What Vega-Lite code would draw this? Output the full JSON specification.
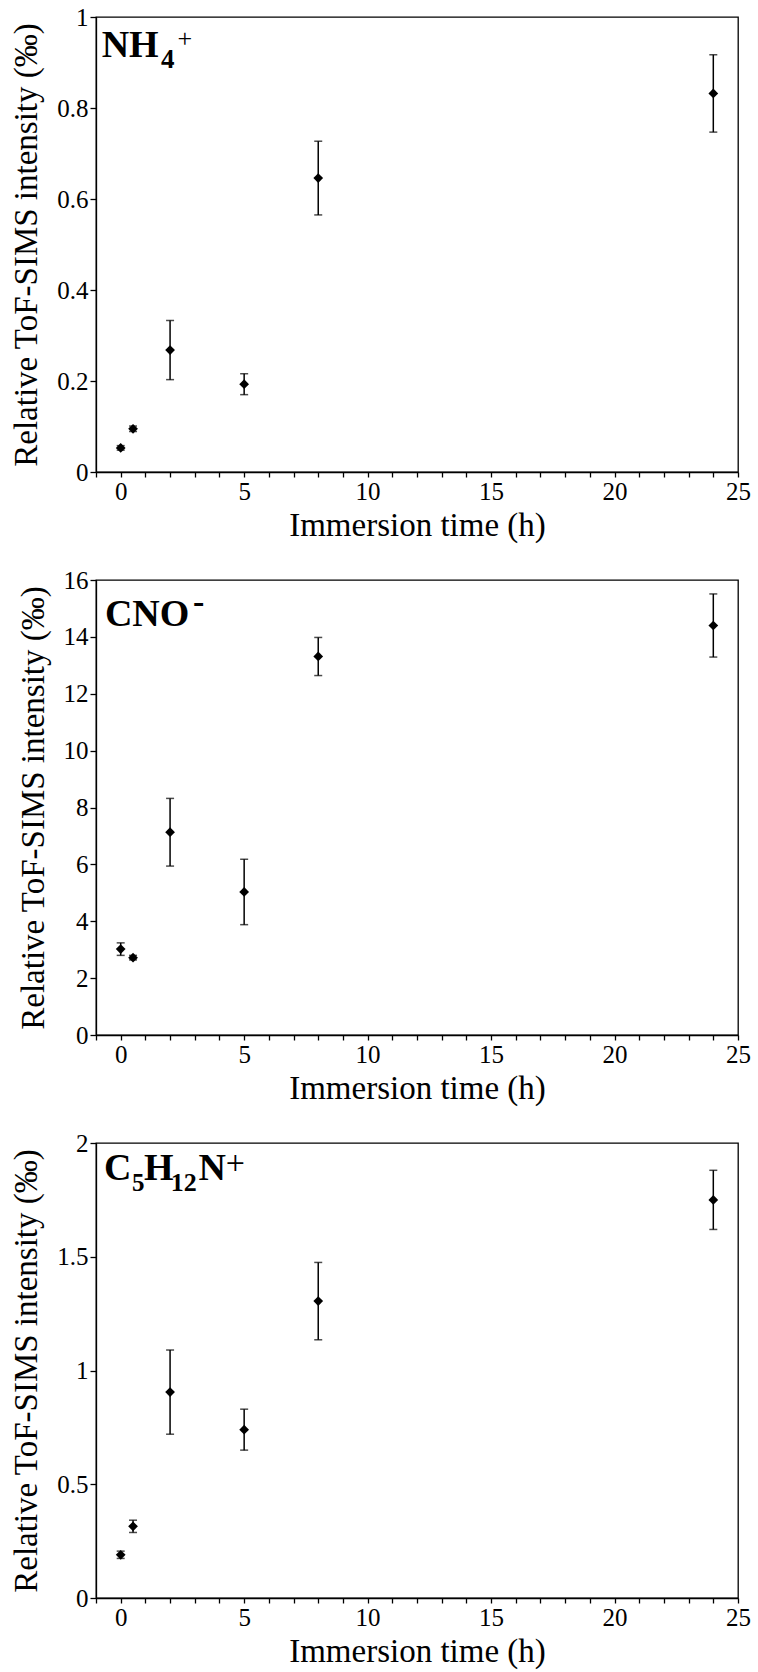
{
  "$schema": "https://vega.github.io/schema/vega-lite/v6.json",
  "background": "white",
  "padding": {"left": 10, "top": 4, "right": 5, "bottom": 5},
  "bounds": "flush",
  "spacing": 108,
  "data": {
    "values": [
      {"ion": "NH4+", "time": 0, "value": 0.053, "err": 0.005},
      {"ion": "NH4+", "time": 0.5, "value": 0.095, "err": 0.006},
      {"ion": "NH4+", "time": 2, "value": 0.268, "err": 0.065},
      {"ion": "NH4+", "time": 5, "value": 0.193, "err": 0.023},
      {"ion": "NH4+", "time": 8, "value": 0.646, "err": 0.081},
      {"ion": "NH4+", "time": 24, "value": 0.832, "err": 0.085},
      {"ion": "CNO-", "time": 0, "value": 3.02, "err": 0.22},
      {"ion": "CNO-", "time": 0.5, "value": 2.72, "err": 0.08},
      {"ion": "CNO-", "time": 2, "value": 7.13, "err": 1.19},
      {"ion": "CNO-", "time": 5, "value": 5.03, "err": 1.15},
      {"ion": "CNO-", "time": 8, "value": 13.31, "err": 0.67},
      {"ion": "CNO-", "time": 24, "value": 14.4, "err": 1.11},
      {"ion": "C5H12N+", "time": 0, "value": 0.19, "err": 0.016},
      {"ion": "C5H12N+", "time": 0.5, "value": 0.315, "err": 0.027},
      {"ion": "C5H12N+", "time": 2, "value": 0.905, "err": 0.185},
      {"ion": "C5H12N+", "time": 5, "value": 0.74, "err": 0.09},
      {"ion": "C5H12N+", "time": 8, "value": 1.305, "err": 0.17},
      {"ion": "C5H12N+", "time": 24, "value": 1.75, "err": 0.13}
    ]
  },
  "vconcat": [
    {
      "width": 642,
      "height": 455,
      "encoding": {
        "x": {"type": "quantitative", "title": "Immersion time (h)",
              "scale": {"domain": [-1, 25], "nice": false},
              "axis": {"values": [-1,0,1,2,3,4,5,6,7,8,9,10,11,12,13,14,15,16,17,18,19,20,21,22,23,24,25],
                       "labelOverlap": false, "labelFont": "Liberation Serif", "titleFont": "Liberation Serif",
                       "labelExpr": "datum.value % 5 === 0 ? datum.label : ''"}},
        "y": {"type": "quantitative", "title": "Relative ToF-SIMS intensity (‰)",
              "scale": {"domain": [0, 1], "nice": false},
              "axis": {"values": [0, 0.2, 0.4, 0.6, 0.8, 1], "labelOverlap": false,
                       "labelFont": "Liberation Serif", "titleFont": "Liberation Serif"}}
      },
      "layer": [
        {
          "transform": [{"filter": "datum.ion === 'NH4+'"}],
          "mark": {"type": "errorbar", "ticks": true, "size": 8, "thickness": 1.5, "color": "black"},
          "encoding": {
            "x": {"field": "time"},
            "y": {"field": "value"},
            "yError": {"field": "err"}
          }
        },
        {
          "transform": [{"filter": "datum.ion === 'NH4+'"}],
          "mark": {"type": "point", "shape": "diamond", "filled": true, "size": 95, "color": "black", "opacity": 1},
          "encoding": {
            "x": {"field": "time"},
            "y": {"field": "value"}
          }
        },
        {
          "data": {"values": [{"label": "NH"}]},
          "mark": {"type": "text", "align": "left", "baseline": "alphabetic", "font": "Liberation Serif", "fontSize": 38, "fontWeight": "bold", "color": "black"},
          "encoding": {"x": {"datum": -0.77}, "y": {"datum": 0.912}, "text": {"field": "label"}}
        },
        {
          "data": {"values": [{"label": "4"}]},
          "mark": {"type": "text", "align": "left", "baseline": "alphabetic", "font": "Liberation Serif", "fontSize": 27, "fontWeight": "bold", "color": "black"},
          "encoding": {"x": {"datum": 1.63}, "y": {"datum": 0.888}, "text": {"field": "label"}}
        },
        {
          "data": {"values": [{"label": "+"}]},
          "mark": {"type": "text", "align": "left", "baseline": "alphabetic", "font": "Liberation Serif", "fontSize": 26, "color": "black"},
          "encoding": {"x": {"datum": 2.3}, "y": {"datum": 0.934}, "text": {"field": "label"}}
        }
      ]
    },
    {
      "width": 642,
      "height": 455,
      "encoding": {
        "x": {"type": "quantitative", "title": "Immersion time (h)",
              "scale": {"domain": [-1, 25], "nice": false},
              "axis": {"values": [-1,0,1,2,3,4,5,6,7,8,9,10,11,12,13,14,15,16,17,18,19,20,21,22,23,24,25],
                       "labelOverlap": false, "labelFont": "Liberation Serif", "titleFont": "Liberation Serif",
                       "labelExpr": "datum.value % 5 === 0 ? datum.label : ''"}},
        "y": {"type": "quantitative", "title": "Relative ToF-SIMS intensity (‰)",
              "scale": {"domain": [0, 16], "nice": false},
              "axis": {"values": [0, 2, 4, 6, 8, 10, 12, 14, 16], "labelOverlap": false,
                       "labelFont": "Liberation Serif", "titleFont": "Liberation Serif"}}
      },
      "layer": [
        {
          "transform": [{"filter": "datum.ion === 'CNO-'"}],
          "mark": {"type": "errorbar", "ticks": true, "size": 8, "thickness": 1.5, "color": "black"},
          "encoding": {
            "x": {"field": "time"},
            "y": {"field": "value"},
            "yError": {"field": "err"}
          }
        },
        {
          "transform": [{"filter": "datum.ion === 'CNO-'"}],
          "mark": {"type": "point", "shape": "diamond", "filled": true, "size": 95, "color": "black", "opacity": 1},
          "encoding": {
            "x": {"field": "time"},
            "y": {"field": "value"}
          }
        },
        {
          "data": {"values": [{"label": "CNO"}]},
          "mark": {"type": "text", "align": "left", "baseline": "alphabetic", "font": "Liberation Serif", "fontSize": 38, "fontWeight": "bold", "color": "black"},
          "encoding": {"x": {"datum": -0.64}, "y": {"datum": 14.38}, "text": {"field": "label"}}
        },
        {
          "data": {"values": [{"label": "-"}]},
          "mark": {"type": "text", "align": "left", "baseline": "alphabetic", "font": "Liberation Serif", "fontSize": 34, "fontWeight": "bold", "color": "black"},
          "encoding": {"x": {"datum": 2.93}, "y": {"datum": 14.83}, "text": {"field": "label"}}
        }
      ]
    },
    {
      "width": 642,
      "height": 455,
      "encoding": {
        "x": {"type": "quantitative", "title": "Immersion time (h)",
              "scale": {"domain": [-1, 25], "nice": false},
              "axis": {"values": [-1,0,1,2,3,4,5,6,7,8,9,10,11,12,13,14,15,16,17,18,19,20,21,22,23,24,25],
                       "labelOverlap": false, "labelFont": "Liberation Serif", "titleFont": "Liberation Serif",
                       "labelExpr": "datum.value % 5 === 0 ? datum.label : ''"}},
        "y": {"type": "quantitative", "title": "Relative ToF-SIMS intensity (‰)",
              "scale": {"domain": [0, 2], "nice": false},
              "axis": {"values": [0, 0.5, 1, 1.5, 2], "labelOverlap": false,
                       "labelFont": "Liberation Serif", "titleFont": "Liberation Serif"}}
      },
      "layer": [
        {
          "transform": [{"filter": "datum.ion === 'C5H12N+'"}],
          "mark": {"type": "errorbar", "ticks": true, "size": 8, "thickness": 1.5, "color": "black"},
          "encoding": {
            "x": {"field": "time"},
            "y": {"field": "value"},
            "yError": {"field": "err"}
          }
        },
        {
          "transform": [{"filter": "datum.ion === 'C5H12N+'"}],
          "mark": {"type": "point", "shape": "diamond", "filled": true, "size": 95, "color": "black", "opacity": 1},
          "encoding": {
            "x": {"field": "time"},
            "y": {"field": "value"}
          }
        },
        {
          "data": {"values": [{"label": "C"}]},
          "mark": {"type": "text", "align": "left", "baseline": "alphabetic", "font": "Liberation Serif", "fontSize": 38, "fontWeight": "bold", "color": "black"},
          "encoding": {"x": {"datum": -0.68}, "y": {"datum": 1.837}, "text": {"field": "label"}}
        },
        {
          "data": {"values": [{"label": "5"}]},
          "mark": {"type": "text", "align": "left", "baseline": "alphabetic", "font": "Liberation Serif", "fontSize": 25, "fontWeight": "bold", "color": "black"},
          "encoding": {"x": {"datum": 0.46}, "y": {"datum": 1.787}, "text": {"field": "label"}}
        },
        {
          "data": {"values": [{"label": "H"}]},
          "mark": {"type": "text", "align": "left", "baseline": "alphabetic", "font": "Liberation Serif", "fontSize": 38, "fontWeight": "bold", "color": "black"},
          "encoding": {"x": {"datum": 0.94}, "y": {"datum": 1.837}, "text": {"field": "label"}}
        },
        {
          "data": {"values": [{"label": "12"}]},
          "mark": {"type": "text", "align": "left", "baseline": "alphabetic", "font": "Liberation Serif", "fontSize": 26, "fontWeight": "bold", "color": "black"},
          "encoding": {"x": {"datum": 2.03}, "y": {"datum": 1.787}, "text": {"field": "label"}}
        },
        {
          "data": {"values": [{"label": "N"}]},
          "mark": {"type": "text", "align": "left", "baseline": "alphabetic", "font": "Liberation Serif", "fontSize": 38, "fontWeight": "bold", "color": "black"},
          "encoding": {"x": {"datum": 3.15}, "y": {"datum": 1.837}, "text": {"field": "label"}}
        },
        {
          "data": {"values": [{"label": "+"}]},
          "mark": {"type": "text", "align": "left", "baseline": "alphabetic", "font": "Liberation Serif", "fontSize": 34, "color": "black"},
          "encoding": {"x": {"datum": 4.25}, "y": {"datum": 1.865}, "text": {"field": "label"}}
        }
      ]
    }
  ],
  "config": {
    "font": "Liberation Serif",
    "style": {
      "guide-label": {"font": "Liberation Serif"},
      "guide-title": {"font": "Liberation Serif"}
    },
    "view": {"stroke": "black", "strokeWidth": 1.3},
    "axis": {
      "grid": false,
      "labelFont": "Liberation Serif",
      "labelFontSize": 25,
      "labelColor": "black",
      "labelFlush": false,
      "labelPadding": 2,
      "tickSize": 5,
      "tickColor": "black",
      "tickWidth": 1.3,
      "domainColor": "black",
      "domainWidth": 1.3,
      "titleFont": "Liberation Serif",
      "titleFontSize": 33,
      "titleFontWeight": "normal",
      "titleColor": "black"
    },
    "axisY": {"format": "~g", "tickSize": 6, "titlePadding": 13},
    "axisX": {"titlePadding": 5}
  }
}
